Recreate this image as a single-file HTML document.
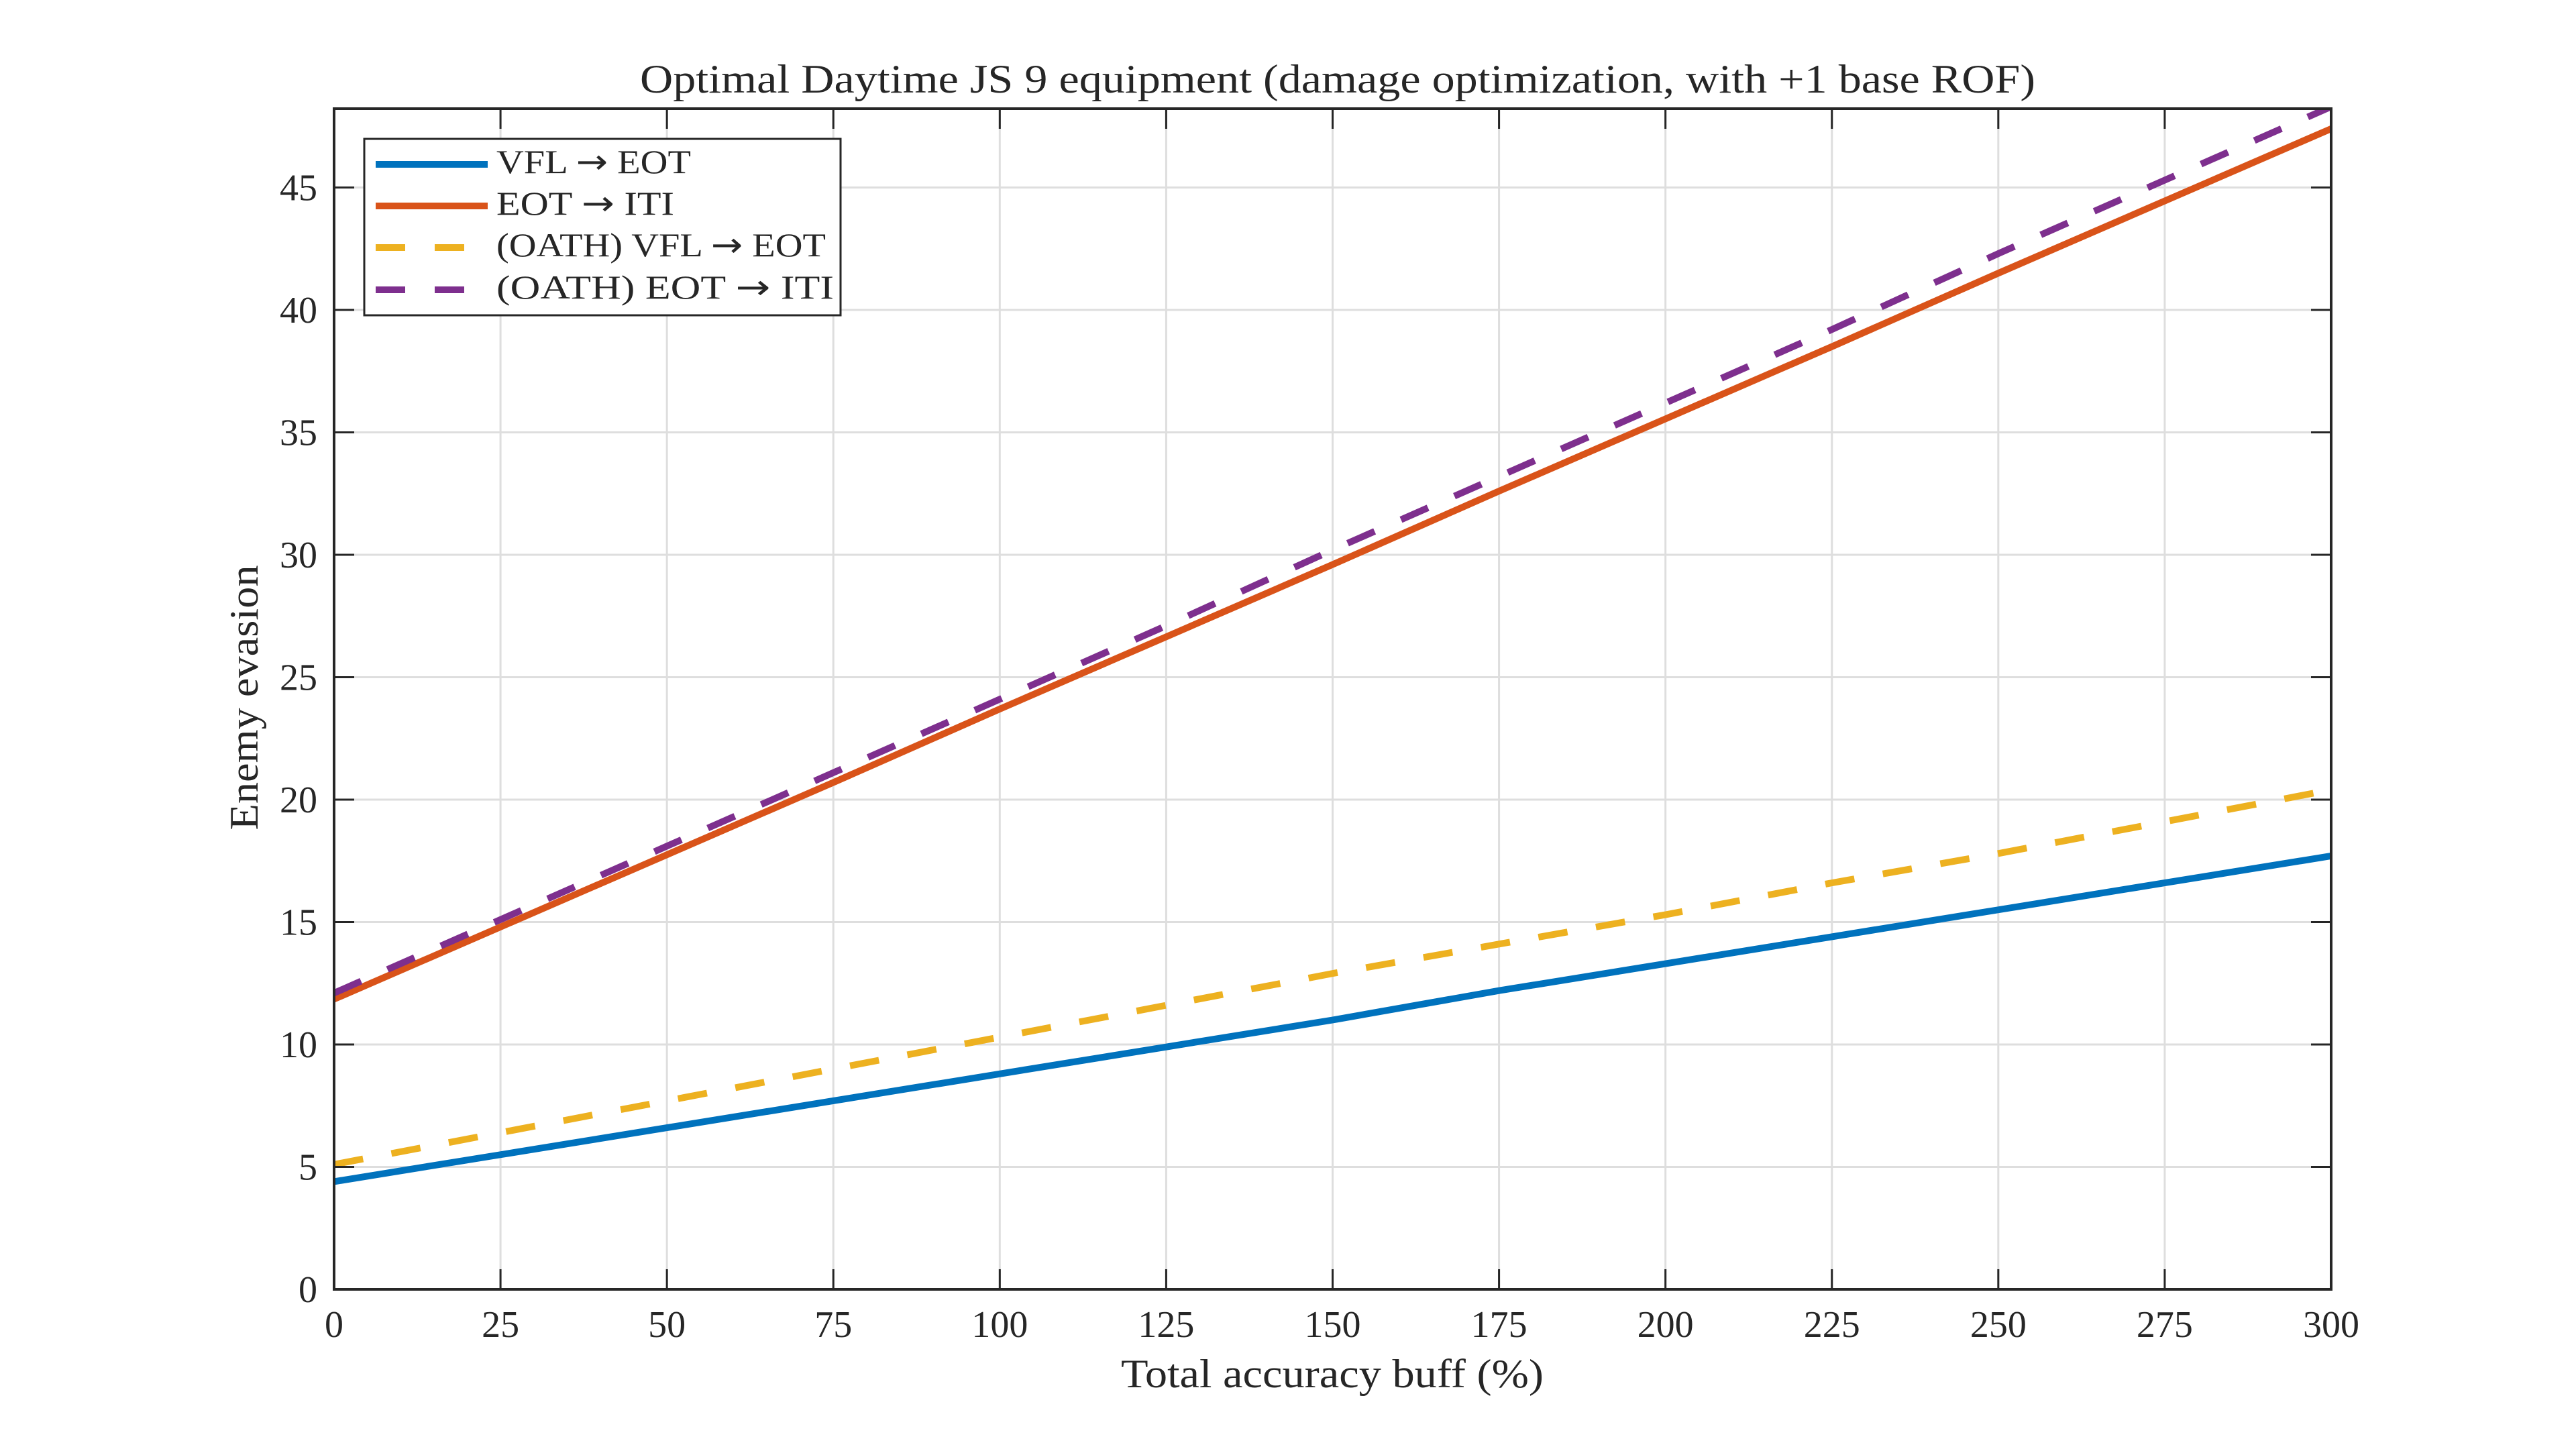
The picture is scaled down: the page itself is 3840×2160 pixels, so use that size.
<!DOCTYPE html>
<html><head><meta charset="utf-8"><title>Optimal Daytime JS 9 equipment</title>
<style>html,body{margin:0;padding:0;background:#fff;}svg{display:block;}text{font-family:"Liberation Serif",serif;fill:#262626;}</style>
</head><body>
<svg id="chart" width="3840" height="2160" viewBox="0 0 3840 2160" xmlns="http://www.w3.org/2000/svg">
<defs><clipPath id="plotclip"><rect x="498" y="162" width="2977" height="1760"/></clipPath></defs>
<rect width="3840" height="2160" fill="#fff"/>
<g id="grid"></g>
<g id="series" clip-path="url(#plotclip)"></g>
<g id="axes"></g>
<text x="1994" y="138" font-size="60" text-anchor="middle" textLength="2080" lengthAdjust="spacingAndGlyphs">Optimal Daytime JS 9 equipment (damage optimization, with +1 base ROF)</text>
<text x="1986" y="2068" font-size="60" text-anchor="middle" textLength="630" lengthAdjust="spacingAndGlyphs">Total accuracy buff (%)</text>
<text transform="translate(384,1040) rotate(-90)" font-size="60" text-anchor="middle" textLength="395" lengthAdjust="spacingAndGlyphs">Enemy evasion</text>
<g id="legend"></g>
</svg>
<script>
const xValues = [0,25,50,75,100,125,150,175,200,225,250,275,300];
const vflEot = [4.4,5.5,6.6,7.7,8.8,9.9,11.0,12.2,13.3,14.4,15.5,16.6,17.7];
const eotIti = [11.85,14.8,17.75,20.7,23.7,26.65,29.6,32.6,35.55,38.5,41.5,44.45,47.4];
const oathVflEot = [5.1,6.4,7.7,9.0,10.3,11.6,12.9,14.1,15.3,16.6,17.8,19.1,20.4];
const oathEotIti = [12.1,15.1,18.1,21.1,24.1,27.1,30.2,33.2,36.2,39.2,42.3,45.3,48.3];
const xTicks = [0,25,50,75,100,125,150,175,200,225,250,275,300];
const yTicks = [0,5,10,15,20,25,30,35,40,45];
const seriesPre = ["VFL ","EOT ","(OATH) VFL ","(OATH) EOT "];
const seriesPost = [" EOT"," ITI"," EOT"," ITI"];

const NS="http://www.w3.org/2000/svg";
const L=498,R=3475,T=162,B=1922,XMAX=300,YMAX=(B-T)/36.5;
function sx(v){return L+(v/XMAX)*(R-L);}
function sy(v){return B-(v/YMAX)*(B-T);}
function mk(tag,attrs,parent){const e=document.createElementNS(NS,tag);for(const k in attrs)e.setAttribute(k,attrs[k]);parent.appendChild(e);return e;}
const grid=document.getElementById('grid'),axes=document.getElementById('axes'),series=document.getElementById('series'),legend=document.getElementById('legend');

xTicks.forEach(v=>{
  const x=sx(v);
  if(v>0&&v<XMAX){const g=mk('line',{x1:x,x2:x,y1:T,y2:B,stroke:'#dedede','stroke-width':3},grid);
  
  }
  const t1=mk('line',{x1:x,x2:x,y1:B,y2:B-30,stroke:'#262626','stroke-width':3},axes);
  
  
  const t2=mk('line',{x1:x,x2:x,y1:T,y2:T+30,stroke:'#262626','stroke-width':3},axes);
  
  
  const lb=mk('text',{x:x,y:1993,'font-size':56,'text-anchor':'middle'},axes);
  lb.textContent=v;
  
  
});
yTicks.forEach(v=>{
  const y=sy(v);
  if(v>0){const g=mk('line',{x1:L,x2:R,y1:y,y2:y,stroke:'#dedede','stroke-width':3},grid);
  
  }
  const t1=mk('line',{x1:L,x2:L+30,y1:y,y2:y,stroke:'#262626','stroke-width':3},axes);
  
  
  const t2=mk('line',{x1:R,x2:R-30,y1:y,y2:y,stroke:'#262626','stroke-width':3},axes);
  
  
  const lb=mk('text',{x:473,y:y+19,'font-size':56,'text-anchor':'end'},axes);
  lb.textContent=v;
  
  
});
const box=mk('rect',{x:L,y:T,width:R-L,height:B-T,fill:'none',stroke:'#262626','stroke-width':4},axes);



const styles=[
 {data:vflEot,color:'#0072BD',dash:null,name:'line-vfl-eot'},
 {data:eotIti,color:'#D95319',dash:null,name:'line-eot-iti'},
 {data:oathVflEot,color:'#EDB120',dash:'44 43',name:'line-oath-vfl-eot'},
 {data:oathEotIti,color:'#7E2F8E',dash:'44 43',name:'line-oath-eot-iti'}];
styles.forEach(s=>{
  const pts=xValues.map((x,i)=>sx(x)+','+sy(s.data[i])).join(' ');
  const a={points:pts,fill:'none',stroke:s.color,'stroke-width':10};
  if(s.dash)a['stroke-dasharray']=s.dash;
  const p=mk('polyline',a,series);
  
  
});

const lb=mk('rect',{x:543,y:207,width:710,height:263,fill:'#fff',stroke:'#262626','stroke-width':3},legend);


const rowsY=[245,307,369,432];
const labelLen=[290,265,491,503];
styles.forEach((s,i)=>{
  const g=mk('g',{},legend);
  
  
  const a={x1:560,x2:727,y1:rowsY[i],y2:rowsY[i],stroke:s.color,'stroke-width':10};
  if(s.dash)a['stroke-dasharray']='44 44';
  const ln=mk('line',a,g);
  
  
  const t=mk('text',{x:740,y:rowsY[i]+13,'font-size':50,textLength:labelLen[i],lengthAdjust:'spacingAndGlyphs'},g);
  t.appendChild(document.createTextNode(seriesPre[i]));
  const ar=mk('tspan',{style:'font-family:"DejaVu Sans",sans-serif'},t);
  ar.textContent='\u2192';
  t.appendChild(document.createTextNode(seriesPost[i]));
  
  
});
</script>
</body></html>
